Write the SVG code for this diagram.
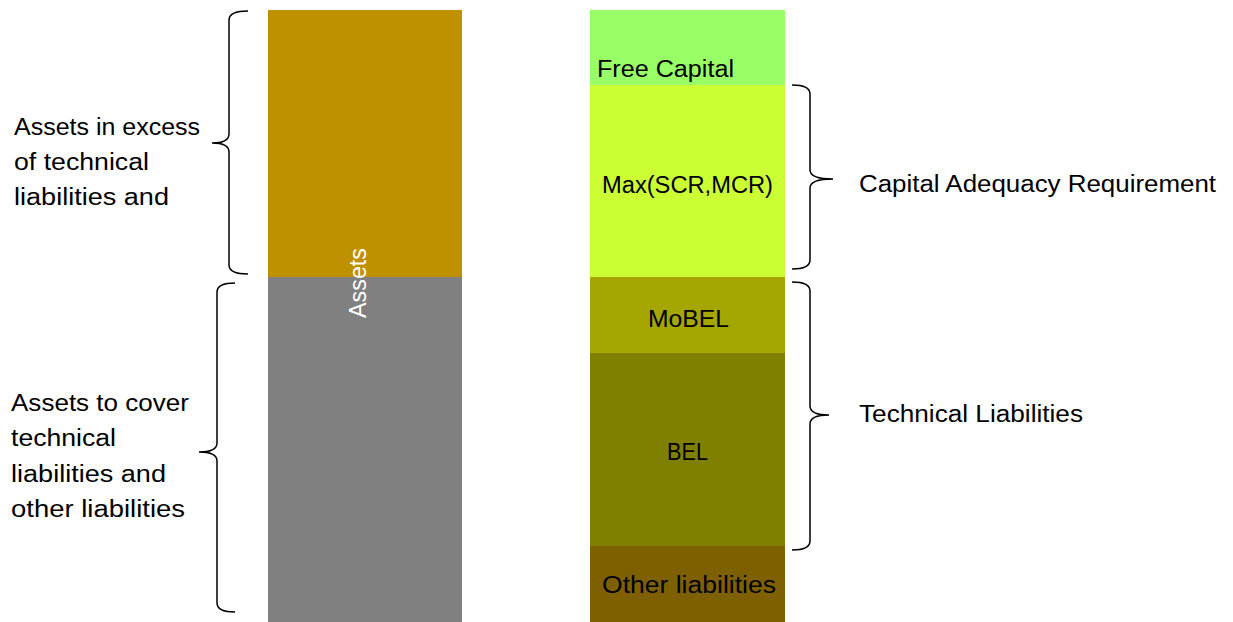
<svg xmlns="http://www.w3.org/2000/svg" width="1233" height="622" viewBox="0 0 1233 622">
<style>
text{font-family:"Liberation Sans",Arial,sans-serif;font-size:23px;fill:#000}
.c{text-anchor:middle}
.brace{fill:none;stroke:#000;stroke-width:1.5}
</style>
<rect width="1233" height="622" fill="#fff"/>
<g id="assets-excess"><rect x="268" y="10" width="194" height="267" fill="#BF9000"/></g>
<g id="assets-cover"><rect x="268" y="277" width="194" height="345" fill="#808080"/></g>
<g id="assets-label"><text transform="translate(366,283) rotate(-90)" class="c" style="fill:#fff" textLength="70" lengthAdjust="spacingAndGlyphs">Assets</text></g>
<g id="free-capital"><rect x="590" y="10" width="195" height="75" fill="#99FF66"/><text x="597" y="77" textLength="137" lengthAdjust="spacingAndGlyphs">Free Capital</text></g>
<g id="max-scr-mcr"><rect x="590" y="85" width="195" height="192" fill="#CCFF33"/><text x="602" y="193" textLength="171" lengthAdjust="spacingAndGlyphs">Max(SCR,MCR)</text></g>
<g id="mobel"><rect x="590" y="277" width="195" height="76" fill="#A6A600"/><text x="648" y="327" textLength="81" lengthAdjust="spacingAndGlyphs">MoBEL</text></g>
<g id="bel"><rect x="590" y="353" width="195" height="193" fill="#808000"/><text x="667" y="460" textLength="41" lengthAdjust="spacingAndGlyphs">BEL</text></g>
<g id="other-liabilities"><rect x="590" y="546" width="195" height="76" fill="#7F6000"/><text x="602" y="593" textLength="174" lengthAdjust="spacingAndGlyphs">Other liabilities</text></g>
<g id="connectors">
<path class="brace" d="M248,11 Q229,11 229,20 L229,134 Q229,143 212,143 Q229,143 229,152 L229,265 Q229,274 248,274"/>
<path class="brace" d="M235,283 Q217,283 217,292 L217,443 Q217,452 199,452 Q217,452 217,461 L217,603 Q217,612 235,612"/>
<path class="brace" d="M792,85 Q810,85 810,94 L810,170 Q810,179 833,179 Q810,179 810,188 L810,260 Q810,269 792,269"/>
<path class="brace" d="M792,282 Q810,282 810,291 L810,406 Q810,415 829,415 Q810,415 810,424 L810,541 Q810,550 792,550"/>
</g>
<g id="label-excess"><text x="14" y="135" textLength="186" lengthAdjust="spacingAndGlyphs">Assets in excess</text><text x="14" y="170" textLength="135" lengthAdjust="spacingAndGlyphs">of technical</text><text x="14" y="205" textLength="155" lengthAdjust="spacingAndGlyphs">liabilities and</text></g>
<g id="label-cover"><text x="11" y="411" textLength="178" lengthAdjust="spacingAndGlyphs">Assets to cover</text><text x="11" y="446" textLength="105" lengthAdjust="spacingAndGlyphs">technical</text><text x="11" y="482" textLength="155" lengthAdjust="spacingAndGlyphs">liabilities and</text><text x="11" y="517" textLength="174" lengthAdjust="spacingAndGlyphs">other liabilities</text></g>
<g id="label-car"><text x="859" y="192" textLength="357" lengthAdjust="spacingAndGlyphs">Capital Adequacy Requirement</text></g>
<g id="label-tl"><text x="859" y="422" textLength="224" lengthAdjust="spacingAndGlyphs">Technical Liabilities</text></g>
</svg>
